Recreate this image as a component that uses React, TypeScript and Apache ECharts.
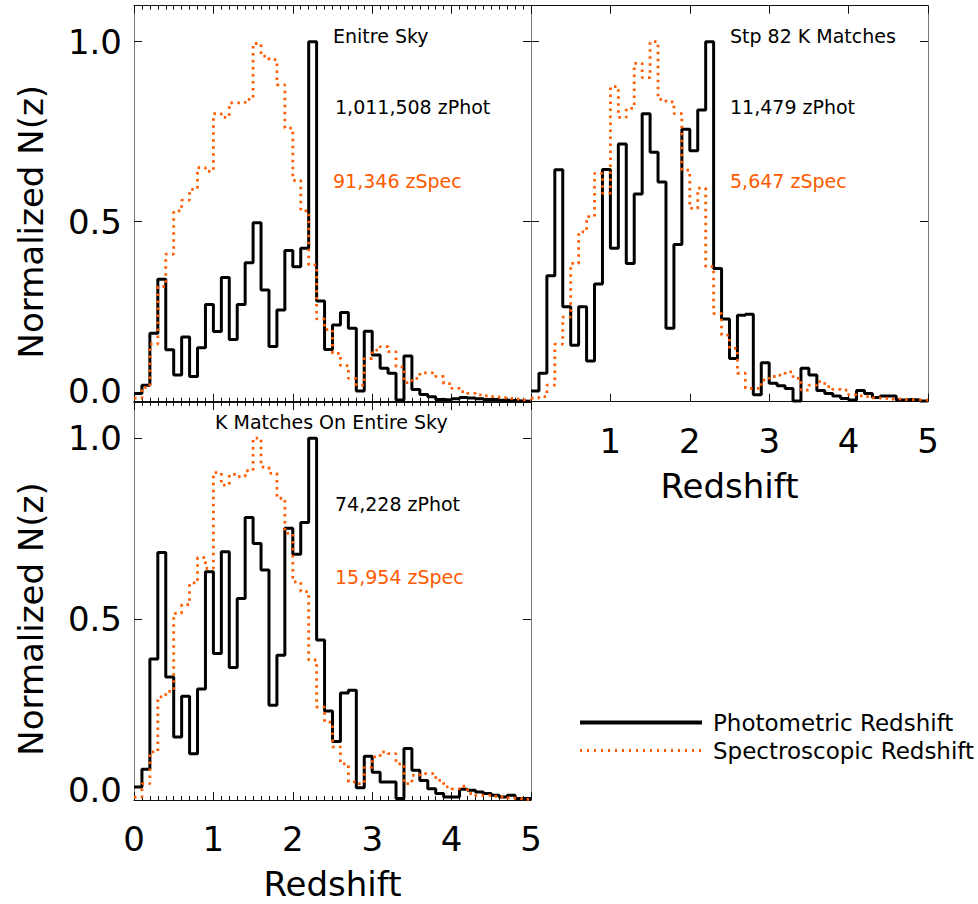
import React, { useEffect, useRef } from "react";
import * as echarts from "echarts";

// ---- data (normalized N(z) per 0.1 redshift bin, 0 .. 5) ----
const BIN_WIDTH = 0.1;
const X_MIN = 0;
const X_MAX = 5;
const Y_TICK_LABELS: Record<string, string> = { "0": "0.0", "0.5": "0.5", "1": "1.0" };

const ENTIRE_SKY_PHOT = [
  0.023, 0.046, 0.19, 0.34, 0.144, 0.074, 0.18, 0.07, 0.15, 0.27,
  0.195, 0.345, 0.173, 0.27, 0.386, 0.497, 0.31, 0.153, 0.255, 0.42,
  0.375, 0.426, 1.0, 0.28, 0.145, 0.213, 0.248, 0.204, 0.03, 0.196,
  0.13, 0.093, 0.079, 0.005, 0.127, 0.034, 0.02, 0.014, 0.006, 0.005,
  0.008, 0.012, 0.01, 0.008, 0.006, 0.006, 0.004, 0.003, 0.002, 0.001,
];
const ENTIRE_SKY_SPEC = [
  0.01, 0.04, 0.16, 0.32, 0.41, 0.53, 0.56, 0.59, 0.65, 0.64,
  0.8, 0.79, 0.83, 0.83, 0.84, 0.995, 0.96, 0.95, 0.88, 0.76,
  0.615, 0.53, 0.38, 0.23, 0.2, 0.134, 0.1, 0.065, 0.046, 0.12,
  0.143, 0.153, 0.139, 0.097, 0.053, 0.065, 0.08, 0.08, 0.07, 0.05,
  0.037, 0.028, 0.023, 0.019, 0.016, 0.014, 0.011, 0.009, 0.007, 0.005,
];
const STRIPE82_PHOT = [
  0.03, 0.079, 0.35, 0.644, 0.264, 0.157, 0.264, 0.113, 0.327, 0.645,
  0.426, 0.716, 0.384, 0.577, 0.8, 0.693, 0.61, 0.204, 0.437, 0.757,
  0.697, 0.81, 1.0, 0.37, 0.23, 0.12, 0.24, 0.243, 0.019, 0.108,
  0.051, 0.044, 0.037, 0.002, 0.093, 0.074, 0.031, 0.023, 0.016, 0.009,
  0.005, 0.031, 0.023, 0.012, 0.016, 0.016, 0.005, 0.006, 0.005, 0.002,
];
const STRIPE82_SPEC = [
  0.01, 0.014, 0.046, 0.16, 0.235, 0.384, 0.472, 0.514, 0.634, 0.579,
  0.875, 0.79, 0.815, 0.94, 0.9, 1.0, 0.84, 0.833, 0.8, 0.643,
  0.537, 0.593, 0.375, 0.245, 0.185, 0.148, 0.079, 0.037, 0.037, 0.06,
  0.07, 0.074, 0.083, 0.065, 0.032, 0.046, 0.056, 0.042, 0.034, 0.032,
  0.019, 0.016, 0.014, 0.011, 0.009, 0.007, 0.008, 0.006, 0.005, 0.004,
];
const KMATCH_PHOT = [
  0.036, 0.085, 0.39, 0.684, 0.34, 0.174, 0.287, 0.128, 0.307, 0.631,
  0.405, 0.686, 0.366, 0.557, 0.781, 0.709, 0.636, 0.262, 0.4, 0.751,
  0.679, 0.767, 1.0, 0.442, 0.246, 0.162, 0.296, 0.303, 0.034, 0.121,
  0.077, 0.05, 0.05, 0.004, 0.142, 0.082, 0.054, 0.031, 0.018, 0.008,
  0.008, 0.03, 0.027, 0.022, 0.018, 0.013, 0.008, 0.013, 0.004, 0.004,
];
const KMATCH_SPEC = [
  0.008, 0.045, 0.133, 0.285, 0.3, 0.516, 0.54, 0.6, 0.67, 0.64,
  0.905, 0.87, 0.9, 0.894, 0.91, 1.0, 0.92, 0.903, 0.834, 0.737,
  0.603, 0.576, 0.387, 0.257, 0.215, 0.147, 0.1, 0.05, 0.045, 0.09,
  0.119, 0.133, 0.128, 0.1, 0.045, 0.068, 0.073, 0.073, 0.054, 0.036,
  0.031, 0.038, 0.018, 0.013, 0.013, 0.01, 0.008, 0.006, 0.004, 0.002,
];

const PANEL_TEXTS = [
  { title: "Enitre Sky", phot: "1,011,508 zPhot", spec: "91,346 zSpec" },
  { title: "Stp 82 K Matches", phot: "11,479 zPhot", spec: "5,647 zSpec" },
  { title: "K Matches On Entire Sky", phot: "74,228 zPhot", spec: "15,954 zSpec" },
];

const PHOT_NAME = "Photometric Redshift";
const SPEC_NAME = "Spectroscopic Redshift";

// ---- styles ----
const FONT = "DejaVu Sans";
const BLACK = "#000000";
const ORANGE = "#ff5a00";
const HLINE = "#111111";
const VLINE = "#777777";

function histData(values: number[]): number[][] {
  const pts = values.map((v, i) => [+(X_MIN + i * BIN_WIDTH).toFixed(2), v]);
  pts.push([+(X_MIN + values.length * BIN_WIDTH).toFixed(2), values[values.length - 1]]);
  return pts;
}

function xAxis(gridIndex: number, position: "top" | "bottom", minor: boolean, labels: "none" | "all" | "noZero", name: boolean) {
  return {
    type: "value",
    gridIndex,
    position,
    min: X_MIN,
    max: X_MAX,
    interval: 1,
    axisLine: { show: true, onZero: false, lineStyle: { color: HLINE, width: 1 } },
    axisTick: { show: true, inside: true, length: 8, lineStyle: { color: HLINE, width: 1 } },
    minorTick: { show: minor, splitNumber: 10, length: 4, lineStyle: { color: HLINE, width: 1 } },
    splitLine: { show: false },
    minorSplitLine: { show: false },
    axisLabel: {
      show: labels !== "none",
      showMinLabel: labels === "all",
      margin: 22,
      fontSize: 34,
      fontFamily: FONT,
      color: BLACK,
      formatter: (v: number) => String(Math.round(v)),
    },
    name: name ? "Redshift" : "",
    nameLocation: "middle",
    nameGap: 67,
    nameTextStyle: { fontSize: 34, fontFamily: FONT, color: BLACK },
  };
}

function yAxis(gridIndex: number, position: "left" | "right", labels: boolean) {
  return {
    type: "value",
    gridIndex,
    position,
    min: 0,
    max: 1.1,
    interval: 0.5,
    axisLine: { show: true, onZero: false, lineStyle: { color: VLINE, width: 1 } },
    axisTick: { show: true, inside: true, length: 8, lineStyle: { color: HLINE, width: 1 } },
    splitLine: { show: false },
    axisLabel: {
      show: labels,
      margin: 12,
      fontSize: 34,
      fontFamily: FONT,
      color: BLACK,
      showMaxLabel: false,
      formatter: (v: number) => {
        const key = String(Math.round(v * 10) / 10);
        const t = Y_TICK_LABELS[key];
        if (!t) return "";
        return key === "0" ? "{lo|" + t + "}" : t;
      },
      rich: { lo: { fontSize: 34, fontFamily: FONT, color: BLACK, padding: [0, 0, 21, 0] } },
    },
    name: labels ? "Normalized N(z)" : "",
    nameLocation: "middle",
    nameGap: 86,
    nameTextStyle: { fontSize: 34, fontFamily: FONT, color: BLACK, padding: [0, 36, 0, 0] },
  };
}

function histSeries(name: string, values: number[], axisIndex: number, spec: boolean) {
  return {
    name,
    type: "line",
    xAxisIndex: axisIndex,
    yAxisIndex: axisIndex,
    step: "end",
    symbol: "none",
    showSymbol: false,
    z: spec ? 3 : 2,
    lineStyle: spec
      ? { color: ORANGE, width: 2.8, type: [2.5, 4.5] }
      : { color: BLACK, width: 3, type: "solid" },
    itemStyle: { color: spec ? ORANGE : BLACK },
    data: histData(values),
  };
}

function panelText(x: number, y: number, text: string, color: string) {
  return {
    type: "text",
    x,
    y,
    style: {
      text,
      fill: color,
      font: `19px "${FONT}"`,
      textAlign: "left",
      textVerticalAlign: "middle",
    },
  };
}

export default function App() {
  const ref = useRef<HTMLDivElement>(null);

  useEffect(() => {
    if (!ref.current) return;
    const chart = echarts.init(ref.current, undefined, { renderer: "svg" });

    const option = {
      animation: false,
      backgroundColor: "#ffffff",
      grid: [
        { left: 134, top: 5.7, width: 397, height: 396 },
        { left: 531, top: 5.7, width: 397, height: 396 },
        { left: 134, top: 402, width: 397, height: 398 },
      ],
      xAxis: [
        xAxis(0, "bottom", true, "none", false),
        xAxis(0, "top", true, "none", false),
        xAxis(1, "bottom", false, "noZero", true),
        xAxis(1, "top", false, "none", false),
        xAxis(2, "bottom", true, "all", true),
        xAxis(2, "top", true, "none", false),
      ],
      yAxis: [
        yAxis(0, "left", true),
        yAxis(0, "right", false),
        yAxis(1, "left", false),
        yAxis(1, "right", false),
        yAxis(2, "left", true),
        yAxis(2, "right", false),
      ],
      legend: {
        orient: "vertical",
        left: 573,
        top: 706,
        itemWidth: 122,
        itemHeight: 14,
        itemGap: 5,
        selectedMode: false,
        itemStyle: { opacity: 0, borderWidth: 0 },
        data: [
          { name: PHOT_NAME, lineStyle: { color: BLACK, width: 4, type: "solid" } },
          { name: SPEC_NAME, lineStyle: { color: ORANGE, width: 3, type: [2, 5] } },
        ],
        textStyle: { fontSize: 23, fontFamily: FONT, color: BLACK, padding: [0, 0, 0, 6] },
      },
      series: [
        histSeries(PHOT_NAME, ENTIRE_SKY_PHOT, 0, false),
        histSeries(SPEC_NAME, ENTIRE_SKY_SPEC, 0, true),
        histSeries(PHOT_NAME, STRIPE82_PHOT, 2, false),
        histSeries(SPEC_NAME, STRIPE82_SPEC, 2, true),
        histSeries(PHOT_NAME, KMATCH_PHOT, 4, false),
        histSeries(SPEC_NAME, KMATCH_SPEC, 4, true),
      ],
      graphic: [
        panelText(333, 36, PANEL_TEXTS[0].title, BLACK),
        panelText(335, 107, PANEL_TEXTS[0].phot, BLACK),
        panelText(333, 181, PANEL_TEXTS[0].spec, ORANGE),
        panelText(730, 36, PANEL_TEXTS[1].title, BLACK),
        panelText(730, 107, PANEL_TEXTS[1].phot, BLACK),
        panelText(730, 181, PANEL_TEXTS[1].spec, ORANGE),
        panelText(215, 422, PANEL_TEXTS[2].title, BLACK),
        panelText(335, 504, PANEL_TEXTS[2].phot, BLACK),
        panelText(335, 577, PANEL_TEXTS[2].spec, ORANGE),
      ],
    };

    chart.setOption(option as any);
    return () => chart.dispose();
  }, []);

  return (
    <div
      ref={ref}
      style={{ position: "absolute", left: 0, top: 0, width: 978, height: 904, background: "#fff" }}
    />
  );
}
